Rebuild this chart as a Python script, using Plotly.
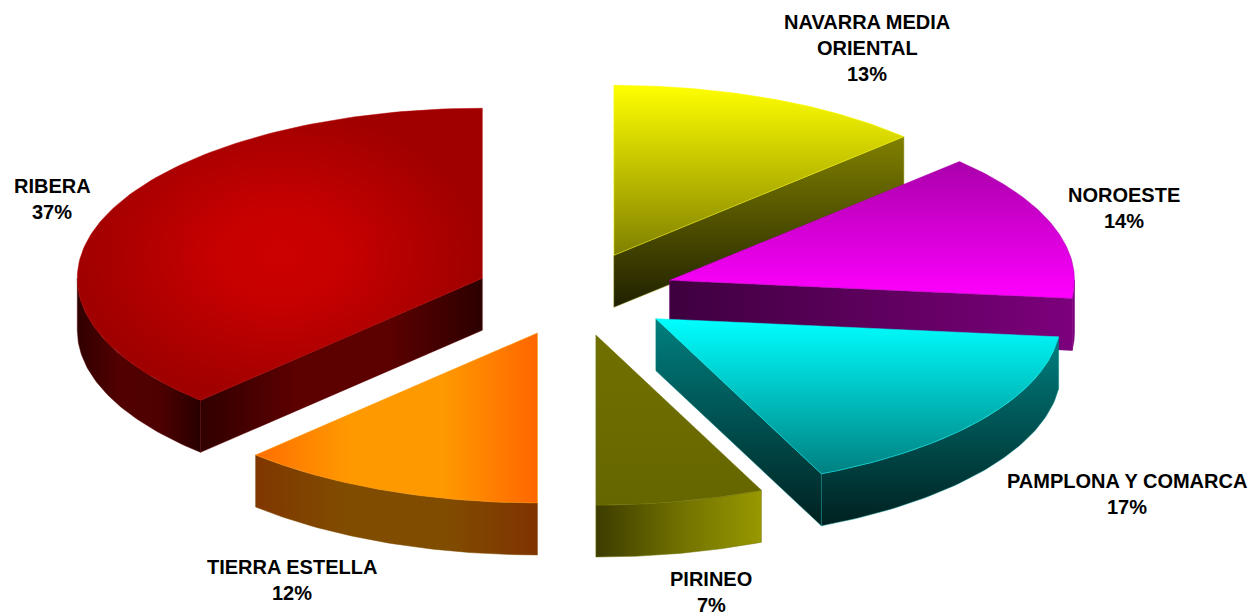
import numpy as np
import plotly.graph_objects as go

# Data
labels = ["NAVARRA MEDIA|ORIENTAL", "NOROESTE", "PAMPLONA Y COMARCA", "PIRINEO", "TIERRA ESTELLA", "RIBERA"]
values = [12.7, 14.0, 16.6, 6.7, 12.25, 37.75]   # slice shares
printed_percent = [13, 14, 17, 7, 12, 37]        # percentages as printed on the chart

# Projection of the tilted, exploded pie (pixels)
CX, CY = 575, 294
RX, RY = 405, 170
PULL = 100
DEPTH = 52

# Label anchor (centre of first line), drawn per line
label_pos = [(867, 22), (1124, 195), (1127, 481), (711, 579), (292, 567), (52, 186)]
LINE_H = 26


def rgb(r, g, b):
    return f"rgb({r},{g},{b})"


def scale(*cols):
    n = len(cols) - 1
    return [[i / n, rgb(*c)] for i, c in enumerate(cols)]


def vscale(*cols):
    # plotly's vertical gradient runs bottom to top; colours are listed top to bottom
    return scale(*cols[::-1])


styles = [
    dict(top=("vertical", vscale((255, 255, 0), (128, 128, 0))),
         cut=("vertical", vscale((128, 128, 0), (32, 32, 0))), cut_side="end", outer=None),
    dict(top=("vertical", vscale((170, 0, 170), (255, 0, 255))),
         cut=("horizontal", scale((62, 0, 62), (124, 0, 124))), cut_side="end",
         outer=("horizontal", scale((124, 0, 124), (124, 0, 124)))),
    dict(top=("vertical", vscale((0, 255, 255), (0, 128, 128))),
         cut=("vertical", vscale((0, 128, 128), (0, 32, 32))), cut_side="end",
         outer=("vertical", vscale((0, 128, 128), (0, 32, 32)))),
    dict(top=("vertical", vscale((112, 112, 0), (102, 102, 0))),
         cut=None, cut_side=None,
         outer=("horizontal", scale((60, 60, 0), (112, 112, 0), (152, 152, 0)))),
    dict(top=("horizontal", scale((255, 110, 0), (255, 153, 0), (255, 153, 0), (255, 102, 0))),
         cut=None, cut_side=None,
         outer=("horizontal", scale((128, 55, 0), (128, 77, 0), (128, 77, 0), (128, 51, 0)))),
    dict(top=("radial", scale((204, 0, 0), (198, 0, 0), (178, 0, 0), (160, 0, 0))),
         cut=("horizontal", scale((48, 0, 0), (92, 0, 0), (92, 0, 0), (44, 0, 0))), cut_side="start",
         outer=("horizontal", scale((48, 0, 0), (82, 0, 0), (78, 0, 0), (40, 0, 0)))),
]
draw_order = [5, 0, 1, 2, 4, 3]

total = sum(values)
edges = np.concatenate([[0], np.cumsum(values)]) / total * 2 * np.pi


def pt(t, r=1.0):
    return r * RX * np.sin(t), -r * RY * np.cos(t)


traces = []


def face(xs, ys, spec):
    kind, cs = spec
    traces.append(go.Scatter(
        x=list(xs) + [xs[0]], y=list(ys) + [ys[0]], mode="lines", fill="toself",
        line=dict(width=0.5, color=cs[len(cs) // 2][1]),
        fillgradient=dict(type=kind, colorscale=cs),
        hoverinfo="skip", showlegend=False))


for i in draw_order:
    a, b = edges[i], edges[i + 1]
    mid = (a + b) / 2
    ox = CX + PULL * np.sin(mid)
    oy = CY - PULL * RY / RX * np.cos(mid)
    st = styles[i]

    # outer wall: the part of the rim that faces the viewer
    lo, hi = max(a, np.pi / 2), min(b, 3 * np.pi / 2)
    if st["outer"] is not None and hi > lo:
        tt = np.linspace(lo, hi, 60)
        ex, ey = pt(tt)
        xs = np.concatenate([ox + ex, (ox + ex)[::-1]])
        ys = np.concatenate([oy + ey, (oy + ey + DEPTH)[::-1]])
        face(xs, ys, st["outer"])

    # cut face that faces the viewer
    if st["cut"] is not None:
        t = b if st["cut_side"] == "end" else a
        ex, ey = pt(t)
        xs = [ox, ox + ex, ox + ex, ox]
        ys = [oy, oy + ey, oy + ey + DEPTH, oy + DEPTH]
        face(xs, ys, st["cut"])

    # top
    tt = np.linspace(a, b, 120)
    ex, ey = pt(tt)
    face(np.concatenate([[ox], ox + ex]), np.concatenate([[oy], oy + ey]), st["top"])

fig = go.Figure(traces)

for name, p, (lx, ly) in zip(labels, printed_percent, label_pos):
    lines = name.split("|") + [f"{p}%"]
    for k, line in enumerate(lines):
        fig.add_annotation(x=lx, y=ly + k * LINE_H, text=f"<b>{line}</b>", showarrow=False,
                           xanchor="center", yanchor="middle",
                           font=dict(family="Liberation Sans", size=20, color="black"))

fig.update_layout(
    width=1254, height=613, autosize=False,
    margin=dict(l=0, r=0, t=0, b=0),
    paper_bgcolor="white", plot_bgcolor="white", showlegend=False,
    xaxis=dict(range=[0, 1254], visible=False, fixedrange=True),
    yaxis=dict(range=[613, 0], visible=False, fixedrange=True),
)
fig.write_html("out.html", config=dict(displayModeBar=False),
               post_script="document.body.style.margin='0';document.body.style.overflow='hidden';")
